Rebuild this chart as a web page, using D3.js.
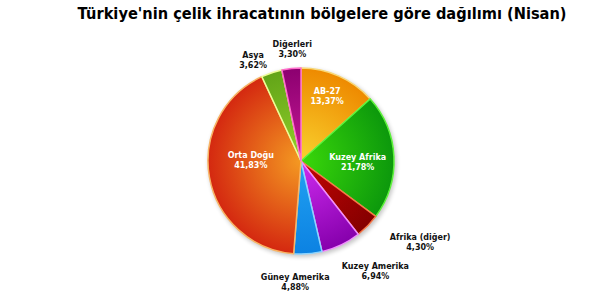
<!DOCTYPE html>
<html>
<head>
<meta charset="utf-8">
<script src="https://cdn.jsdelivr.net/npm/d3@7/dist/d3.min.js"></script>
<style>
  body { margin: 0; background: #fff; }
  svg { display: block; }
</style>
</head>
<body>
<div id="chart"></div>
<script>
// data
const regions = ['AB-27', 'Kuzey Afrika', 'Afrika (diğer)', 'Kuzey Amerika', 'Güney Amerika', 'Orta Doğu', 'Asya', 'Diğerleri']
const shares = [13.37, 21.78, 4.30, 6.94, 4.88, 41.83, 3.62, 3.30]
const shareLabels = ['13,37%', '21,78%', '4,30%', '6,94%', '4,88%', '41,83%', '3,62%', '3,30%']

// slice colours: inner, outer, rim
const innerColors = ['#f9d22e', '#3ad80a', '#c40404', '#cf2cf0', '#22a2f2', '#f49a22', '#92d02a', '#c81a96']
const outerColors = ['#ee8a00', '#0c980c', '#840000', '#8600ac', '#0c82e2', '#d42810', '#62a418', '#8c0070']
const rimColors = ['#f8d878', '#5cf23a', '#f87848', '#f08cff', '#8cd4ff', '#f8b464', '#eefc98', '#ff6ccc']

// label placement: radius factor and angle nudge (deg) from the slice middle
const labelRadius = [0.75, 0.61, 1.55, 1.43, 1.30, 0.54, 1.20, 1.21]
const labelNudge = [-2, 3.5, -10, -8.5, 7, 11, -7, 1.5]
const insideLabel = [true, true, false, false, false, true, false, false]

const width = 600
const height = 300
const cx = 301
const cy = 161
const radius = 93

const svg = d3.select('#chart').append('svg')
  .attr('width', width)
  .attr('height', height)

const defs = svg.append('defs')

// soft shadow under the pie
const shadow = defs.append('filter').attr('id', 'shadow')
  .attr('x', '-20%').attr('y', '-20%').attr('width', '140%').attr('height', '140%')
shadow.append('feGaussianBlur').attr('stdDeviation', 2)

innerColors.forEach((c, i) => {
  const g = defs.append('radialGradient')
    .attr('id', 'grad' + i)
    .attr('gradientUnits', 'userSpaceOnUse')
    .attr('cx', 0).attr('cy', 0).attr('r', radius)
  g.append('stop').attr('offset', '0%').attr('stop-color', c)
  g.append('stop').attr('offset', '100%').attr('stop-color', outerColors[i])
})

svg.append('text')
  .attr('x', 322)
  .attr('y', 19)
  .attr('text-anchor', 'middle')
  .style('font-family', '"DejaVu Sans", Verdana, sans-serif')
  .style('font-weight', 'bold')
  .style('font-size', '15px')
  .attr('textLength', 489)
  .attr('lengthAdjust', 'spacingAndGlyphs')
  .text("Türkiye'nin çelik ihracatının bölgelere göre dağılımı (Nisan)")

const pie = d3.pie().sort(null).value(d => d)
const arcs = pie(shares)
const arc = d3.arc().innerRadius(0).outerRadius(radius)

const g = svg.append('g').attr('transform', `translate(${cx},${cy})`)

g.append('circle')
  .attr('cx', 1.5).attr('cy', 2)
  .attr('r', radius + 1)
  .attr('fill', '#000')
  .attr('opacity', 0.22)
  .attr('filter', 'url(#shadow)')

g.selectAll('path.slice')
  .data(arcs)
  .join('path')
  .attr('class', 'slice')
  .attr('d', arc)
  .attr('fill', (d, i) => `url(#grad${i})`)
  .attr('stroke', (d, i) => rimColors[i])
  .attr('stroke-width', 1.5)
  .attr('stroke-linejoin', 'round')

// labels
const labels = g.selectAll('g.label')
  .data(arcs)
  .join('g')
  .attr('class', 'label')
  .attr('transform', (d, i) => {
    const mid = (d.startAngle + d.endAngle) / 2 + labelNudge[i] * Math.PI / 180
    const r = radius * labelRadius[i]
    return `translate(${r * Math.sin(mid)},${-r * Math.cos(mid)})`
  })
  .style('font-family', '"DejaVu Sans", Verdana, sans-serif')
  .style('font-weight', 'bold')
  .style('font-size', '8px')
  .attr('text-anchor', 'middle')
  .attr('fill', (d, i) => insideLabel[i] ? '#fff' : '#111')

labels.append('text').attr('y', -2).text((d, i) => regions[i])
labels.append('text').attr('y', 8).text((d, i) => shareLabels[i])
</script>
</body>
</html>
